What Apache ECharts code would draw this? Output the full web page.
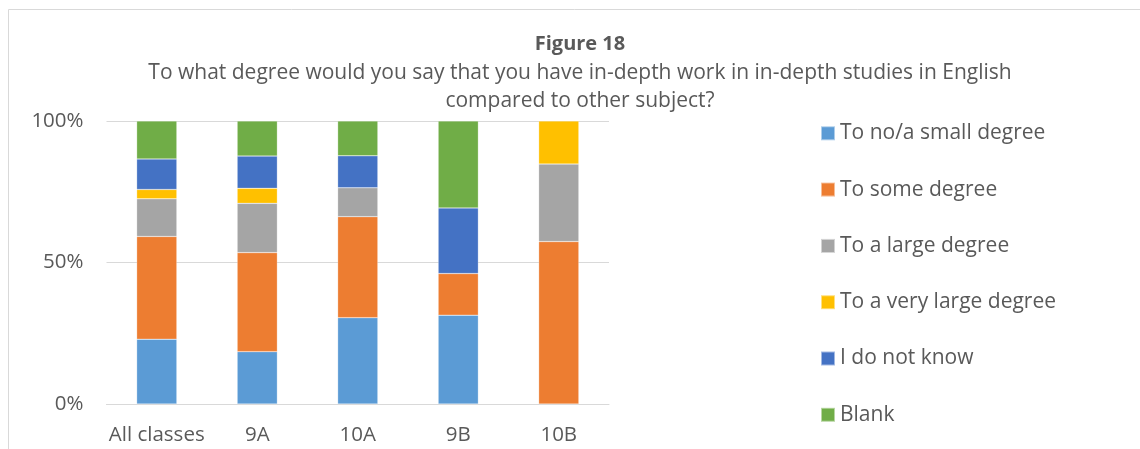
<!DOCTYPE html>
<html><head><meta charset="utf-8">
<script src="https://cdn.jsdelivr.net/npm/echarts@6/dist/echarts.min.js"></script>
<style>html,body{margin:0;padding:0;background:#fff}#c{width:1140px;height:449px}</style>
</head><body><div id="c"></div>
<script>
const categories = ['All classes', '9A', '10A', '9B', '10B'];
const seriesNames = ['To no/a small degree', 'To some degree', 'To a large degree', 'To a very large degree', 'I do not know', 'Blank'];
const noSmall = [22.9, 18.5, 30.5, 31.4, 0];
const some = [36.3, 35.0, 35.7, 14.7, 57.4];
const large = [13.3, 17.4, 10.2, 0, 27.4];
const veryLarge = [3.3, 5.3, 0, 0, 15.2];
const dontKnow = [10.8, 11.4, 11.3, 23.2, 0];
const blank = [13.4, 12.4, 12.3, 30.7, 0];
const yTicks = [0, 50, 100];
const colors = ['#5b9bd5', '#ed7d31', '#a5a5a5', '#ffc000', '#4472c4', '#70ad47'];
const values = [noSmall, some, large, veryLarge, dontKnow, blank];
const font = '"Open Sans", "Liberation Sans", sans-serif';

const chart = echarts.init(document.getElementById('c'));
chart.setOption({
  animation: false,
  graphic: [{type: 'rect', shape: {x: 8.5, y: 9.5, width: 1140, height: 460}, style: {fill: 'none', stroke: '#d9d9d9', lineWidth: 1}, silent: true}],
  title: {
    text: 'Figure 18',
    subtext: 'To what degree would you say that you have in-depth work in in-depth studies in English\ncompared to other subject?',
    left: 580, textAlign: 'center', top: 33, itemGap: 4, padding: 0,
    textStyle: {fontFamily: font, fontSize: 20, fontWeight: 'bold', color: '#595959', lineHeight: 22},
    subtextStyle: {fontFamily: font, fontSize: 21, color: '#595959', lineHeight: 28}
  },
  legend: {
    orient: 'vertical', left: 820, top: 121.3, itemWidth: 14, itemHeight: 14, itemGap: 32.3, padding: 0,
    icon: 'rect', data: seriesNames,
    textStyle: {fontFamily: font, fontSize: 21, color: '#595959', lineHeight: 24, padding: [0, 0, 0, 0]}
  },
  grid: {left: 106.5, right: 531, top: 121, bottom: 45, containLabel: false},
  xAxis: {
    type: 'category', data: categories,
    axisLine: {show: true, lineStyle: {color: '#d9d9d9', width: 1}},
    axisTick: {show: false},
    axisLabel: {interval: 0, fontFamily: font, fontSize: 20.5, color: '#595959', margin: 21}
  },
  yAxis: {
    type: 'value', min: 0, max: 100, interval: 50,
    axisLine: {show: false}, axisTick: {show: false},
    splitLine: {lineStyle: {color: '#d9d9d9', width: 1}},
    axisLabel: {fontFamily: font, fontSize: 20.5, color: '#595959', margin: 23,
      formatter: v => yTicks.includes(v) ? v + '%' : ''}
  },
  series: seriesNames.map((n, i) => ({
    name: n, type: 'bar', stack: 'total', barWidth: '40%',
    data: values[i].map(v => v === 0 ? null : v),
    itemStyle: {color: colors[i], borderColor: 'rgba(255,255,255,0.5)', borderWidth: 0.5}
  }))
});
</script></body></html>
